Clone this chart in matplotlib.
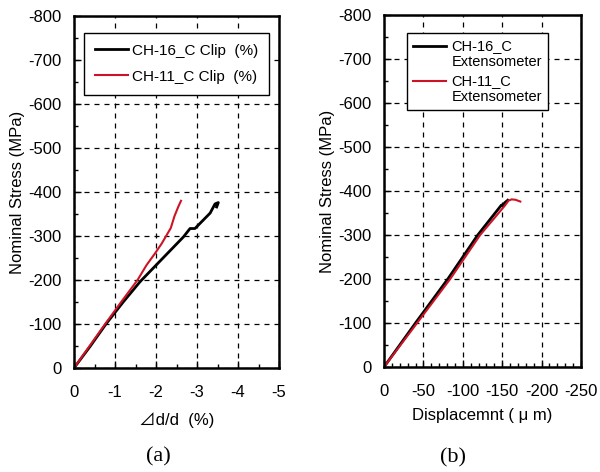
import matplotlib
matplotlib.use("Agg")
import numpy as np
import matplotlib.pyplot as plt
from matplotlib.ticker import MultipleLocator
from matplotlib.legend_handler import HandlerLine2D

plt.rcParams['font.family'] = ['Liberation Sans', 'Noto Sans CJK JP', 'DejaVu Sans']
plt.rcParams['axes.unicode_minus'] = False

# (a) clip-gauge strain vs nominal stress
clip_ch16_strain = [0, -0.40, -0.78, -1.20, -1.61, -2.15, -2.67, -2.83, -2.95,
                    -3.32, -3.44, -3.52, -3.48]
clip_ch16_stress = [0, -50, -100, -150, -196, -248, -298, -317, -317,
                    -352, -373, -376, -366]
clip_ch11_strain = [0, -0.38, -0.76, -1.15, -1.55, -1.77, -1.98, -2.14,
                    -2.36, -2.45, -2.55, -2.61]
clip_ch11_stress = [0, -50, -100, -150, -200, -234, -261, -283,
                    -318, -345, -368, -380]

# (b) extensometer displacement vs nominal stress
ext_ch16_disp = [0, -40, -81, -119, -149, -151, -153, -157]
ext_ch16_stress = [0, -100, -200, -300, -368, -366, -373, -379]
ext_ch11_disp = [0, -42, -84, -122, -153, -158, -162, -167, -173]
ext_ch11_stress = [0, -100, -200, -300, -366, -378, -381, -380, -376]

RED = '#cc1426'
FS = 12


class FirstLineHandler(HandlerLine2D):
    """Legend line drawn level with the first line of a two-line label."""

    def create_artists(self, legend, orig_handle, xdescent, ydescent,
                       width, height, fontsize, trans):
        artists = super().create_artists(legend, orig_handle, xdescent, ydescent,
                                         width, height, fontsize, trans)
        for a in artists:
            a.set_ydata(np.asarray(a.get_ydata(), dtype=float) + 0.6 * fontsize)
        return artists


fig = plt.figure(figsize=(6.0, 4.72), dpi=100)
ax1 = fig.add_axes([74 / 600, 1 - 368 / 472, 205 / 600, 352 / 472])
ax2 = fig.add_axes([384 / 600, 1 - 367 / 472, 197 / 600, 352 / 472])


def style(ax, xmax, xticks, xminor):
    ax.set_xlim(0, xmax)
    ax.set_ylim(0, -800)
    ax.set_xticks(xticks)
    ax.set_xticklabels([str(v) for v in xticks])
    ax.xaxis.set_minor_locator(MultipleLocator(xminor))
    ax.yaxis.set_major_locator(MultipleLocator(100))
    ax.yaxis.set_minor_locator(MultipleLocator(50))
    ax.tick_params(which='both', direction='in', top=False, right=False,
                   labelsize=FS, width=1.0)
    ax.tick_params(which='major', length=5)
    ax.tick_params(which='minor', length=3)
    ax.tick_params(axis='x', which='major', pad=12)
    ax.tick_params(axis='y', which='major', pad=9)
    ax.grid(True, which='major', color='black', linestyle=(0, (4, 4)), linewidth=0.9)
    for s in ax.spines.values():
        s.set_linewidth(1.8)
    ax.set_ylabel('Nominal Stress (MPa)', fontsize=FS, labelpad=2)


style(ax1, -5, [0, -1, -2, -3, -4, -5], 0.5)
ax1.plot(clip_ch16_strain, clip_ch16_stress, color='black', lw=2.0,
         label='CH-16_C Clip  (%)')
ax1.plot(clip_ch11_strain, clip_ch11_stress, color=RED, lw=1.5,
         label='CH-11_C Clip  (%)')
ax1.set_xlabel('\u22bfd/d  (%)', fontsize=FS, labelpad=9)
leg1 = ax1.legend(loc='upper right', bbox_to_anchor=(0.951, 0.952), fontsize=11,
                  handlelength=2.2, fancybox=False, edgecolor='black', framealpha=1,
                  borderaxespad=0, borderpad=0.7, handletextpad=0.25,
                  labelspacing=0.8)
leg1.get_frame().set_linewidth(1.0)

style(ax2, -250, [0, -50, -100, -150, -200, -250], 10)
ax2.plot(ext_ch16_disp, ext_ch16_stress, color='black', lw=2.0,
         label='CH-16_C\nExtensometer')
ax2.plot(ext_ch11_disp, ext_ch11_stress, color=RED, lw=1.5,
         label='CH-11_C\nExtensometer')
ax2.set_xlabel('Displacemnt ( \u03bc m)', fontsize=FS, labelpad=7)
leg2 = ax2.legend(loc='upper right', bbox_to_anchor=(0.831, 0.949), fontsize=10.5,
                  handlelength=2.3, fancybox=False, edgecolor='black',
                  framealpha=1, borderaxespad=0, borderpad=0.4,
                  handletextpad=0.35, labelspacing=0.35,
                  handler_map={plt.Line2D: FirstLineHandler()})
leg2.get_frame().set_linewidth(1.0)
for t in leg2.get_texts():
    t.set_linespacing(1.2)

fig.text(158 / 600, 1 - 457 / 472, '(a)', fontsize=16, family='Liberation Serif',
         ha='center', va='center')
fig.text(453 / 600, 1 - 458 / 472, '(b)', fontsize=16, family='Liberation Serif',
         ha='center', va='center')

fig.savefig('out.png', dpi=100)
